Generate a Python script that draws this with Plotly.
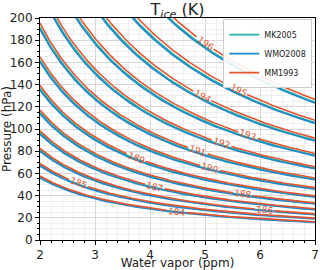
import numpy as np
import plotly.graph_objects as go

# Frost-point contour levels (K) and where each MM1993 label sits (ppm)
levels = [184, 185, 186, 187, 188, 189, 190, 191, 192, 193, 194, 195, 196]
label_x = [4.49, 2.70, 6.09, 4.09, 5.69, 3.75, 5.09, 4.87, 5.30, 5.78, 4.95, 5.60, 5.00]
series_names = ["MK2005", "WMO2008", "MM1993"]
series_colors = ["#22b3a3", "#2288cc", "#e5532f"]
x_range = [2, 7]
p_range = [0, 200]
x_ticks = [2, 3, 4, 5, 6, 7]
p_ticks = [0, 20, 40, 60, 80, 100, 120, 140, 160, 180, 200]


def e_mk2005(T):  # hPa
    return np.exp(9.550426 - 5723.265 / T + 3.53068 * np.log(T) - 0.00728332 * T) / 100.0


def e_wmo2008(T):  # hPa
    t = T - 273.15
    return 6.112 * np.exp(22.46 * t / (272.62 + t))


def e_mm1993(T):  # hPa
    return 10 ** (-2663.5 / T + 12.537) / 100.0


funcs = [e_mk2005, e_wmo2008, e_mm1993]

W, H = 320, 270
ml, mr, mt, mb = 40, 5, 18, 30
pw, ph = W - ml - mr, H - mt - mb
sx = pw / (x_range[1] - x_range[0])
sy = ph / (p_range[1] - p_range[0])

x = np.linspace(x_range[0], x_range[1], 600)
fig = go.Figure()
annotations = []
for si, (name, col, f) in enumerate(zip(series_names, series_colors, funcs)):
    for li, T in enumerate(levels):
        P = f(T) / (x * 1e-6)
        P = P.astype(object)
        if name == "MM1993":
            lx = label_x[li]
            lp = f(T) / (lx * 1e-6)
            d = np.hypot((x - lx) * sx, (np.array(P, dtype=float) - lp) * sy)
            P[d < 10] = None
            ang = np.degrees(np.arctan((lp / lx) * sy / sx))
            annotations.append(dict(x=lx, y=lp, xref="x", yref="y", text=str(T),
                                    showarrow=False, textangle=ang,
                                    font=dict(size=9, color=col, family="DejaVu Sans")))
        fig.add_trace(go.Scatter(x=x, y=P, mode="lines", name=name, legendgroup=name,
                                 showlegend=(li == 0), line=dict(color=col, width=1.6),
                                 connectgaps=False, hoverinfo="skip"))

axis_common = dict(showline=True, linecolor="black", linewidth=1, mirror=True,
                   ticks="outside", ticklen=4, tickcolor="black",
                   gridcolor="#d8d8d8", gridwidth=1, zeroline=False,
                   tickfont=dict(size=12, color="#222"))
fig.update_xaxes(range=x_range, tickvals=x_ticks, automargin=True,
                 title=dict(text="Water vapor (ppm)", font=dict(size=12), standoff=3),
                 minor=dict(dtick=0.2, showgrid=True, gridcolor="#efefef", ticks="outside", ticklen=2, tickcolor="black"),
                 **axis_common)
fig.update_yaxes(range=p_range, tickvals=p_ticks, automargin=False,
                 title=dict(text="Pressure (hPa)", font=dict(size=12), standoff=2),
                 minor=dict(dtick=5, showgrid=True, gridcolor="#efefef", ticks="outside", ticklen=2, tickcolor="black"),
                 **axis_common)
fig.update_layout(
    width=W, height=H, margin=dict(l=ml, r=mr, t=mt, b=mb, autoexpand=False),
    paper_bgcolor="white", plot_bgcolor="white",
    font=dict(family="DejaVu Sans", color="#222"),
    title=dict(text="T<sub><i>ice</i></sub> (K)", x=(ml + pw / 2) / W, xanchor="center",
               y=1 - 9 / H, yanchor="middle", font=dict(size=16)),
    legend=dict(x=0.99, y=0.995, xanchor="right", yanchor="top", bgcolor="rgba(255,255,255,0.9)",
                bordercolor="#cccccc", borderwidth=1, font=dict(size=8),
                tracegroupgap=0, itemwidth=30),
    annotations=annotations,
    showlegend=True,
)
fig.write_html("out.html", config={"displayModeBar": False},
               post_script="document.body.style.margin='0';document.body.style.padding='0';")
